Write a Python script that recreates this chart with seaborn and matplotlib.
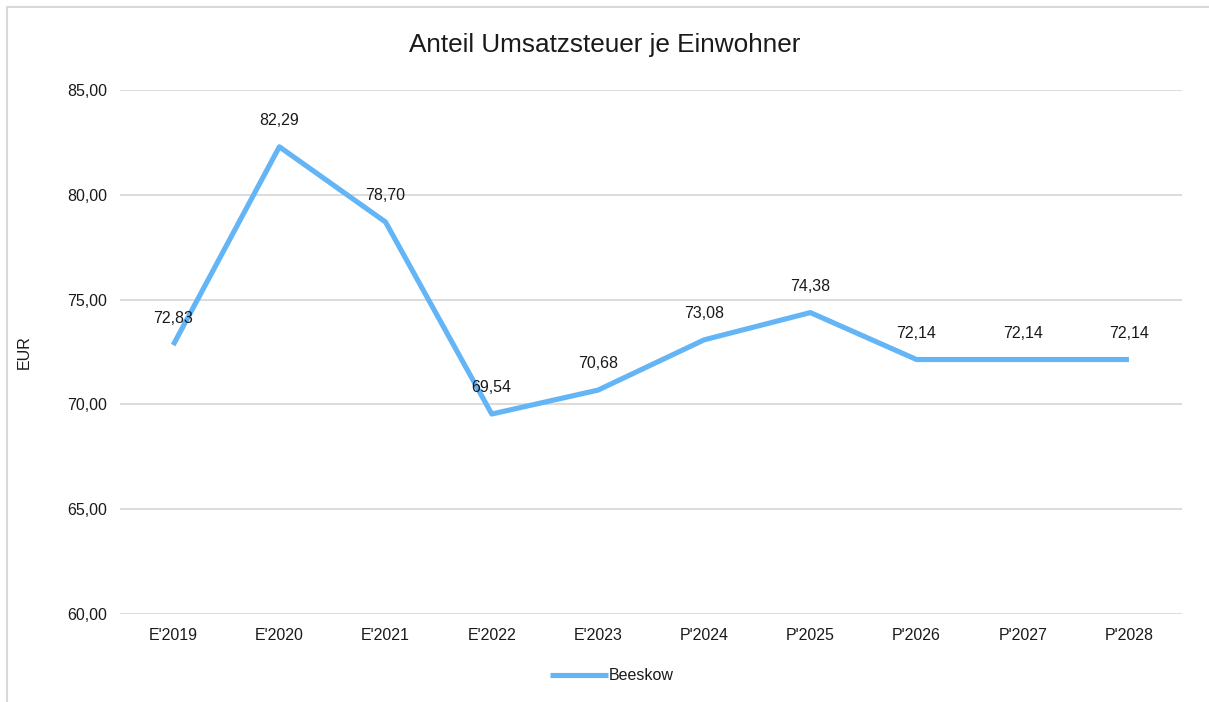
import numpy as np
import pandas as pd
import seaborn as sns
import matplotlib.pyplot as plt
from matplotlib.patches import Rectangle

years = ["E'2019", "E'2020", "E'2021", "E'2022", "E'2023",
         "P'2024", "P'2025", "P'2026", "P'2027", "P'2028"]
values = [72.83, 82.29, 78.70, 69.54, 70.68, 73.08, 74.38, 72.14, 72.14, 72.14]
y_ticks = [60, 65, 70, 75, 80, 85]

df = pd.DataFrame({"Jahr": years, "EUR": values, "pos": np.arange(len(years))})

sns.set_style("white")
plt.rcParams['font.family'] = ['Liberation Sans', 'DejaVu Sans']

fig = plt.figure(figsize=(12.09, 7.02), dpi=100)
ax = fig.add_axes([0.0993, 0.1254, 0.8784, 0.7464])

color = "#64B5F6"
txt = "#1a1a1a"
sns.lineplot(data=df, x="pos", y="EUR", ax=ax, color=color, linewidth=3.7,
             label="Beeskow", solid_capstyle="butt")

for x, v in zip(df["pos"], df["EUR"]):
    ax.annotate(f"{v:.2f}".replace(".", ","), (x, v), xytext=(0, 19),
                textcoords="offset points", ha="center", va="center",
                fontsize=11.5, color=txt)

ax.set_xlim(-0.5, len(years) - 0.5)
ax.set_ylim(60, 85)
ax.set_xticks(df["pos"])
ax.set_xticklabels(years, fontsize=11.5, color=txt)
ax.set_yticks(y_ticks)
ax.set_yticklabels([f"{t:.2f}".replace(".", ",") for t in y_ticks],
                   fontsize=11.5, color=txt)
ax.tick_params(axis="both", length=0)
ax.tick_params(axis="y", pad=9.5)
ax.tick_params(axis="x", pad=10)
ax.grid(axis="y", color="#d9d9d9", linewidth=1.3)
ax.set_axisbelow(True)
for s in ax.spines.values():
    s.set_visible(False)
ax.set_xlabel("")
ax.set_ylabel("EUR", fontsize=11.5, color=txt)
ax.yaxis.set_label_coords(-0.083, 0.5)

fig.text(0.5, 1 - 45 / 702, "Anteil Umsatzsteuer je Einwohner",
         ha="center", va="center", fontsize=18.8, color=txt)

leg = ax.legend(loc="center", frameon=False, fontsize=11.5,
                handlelength=3.6, handletextpad=0.1)
for t in leg.get_texts():
    t.set_color(txt)
leg.set_bbox_to_anchor((612 / 1209, 1 - 676 / 702), transform=fig.transFigure)

# outer chart frame (top and left edges visible)
fig.patches.append(Rectangle((7 / 1209, -0.1), 1.2, 1 - 7 / 702 + 0.1,
                             transform=fig.transFigure, fill=False,
                             edgecolor="#d9d9d9", linewidth=1.5))

fig.savefig("out.png", dpi=100)
